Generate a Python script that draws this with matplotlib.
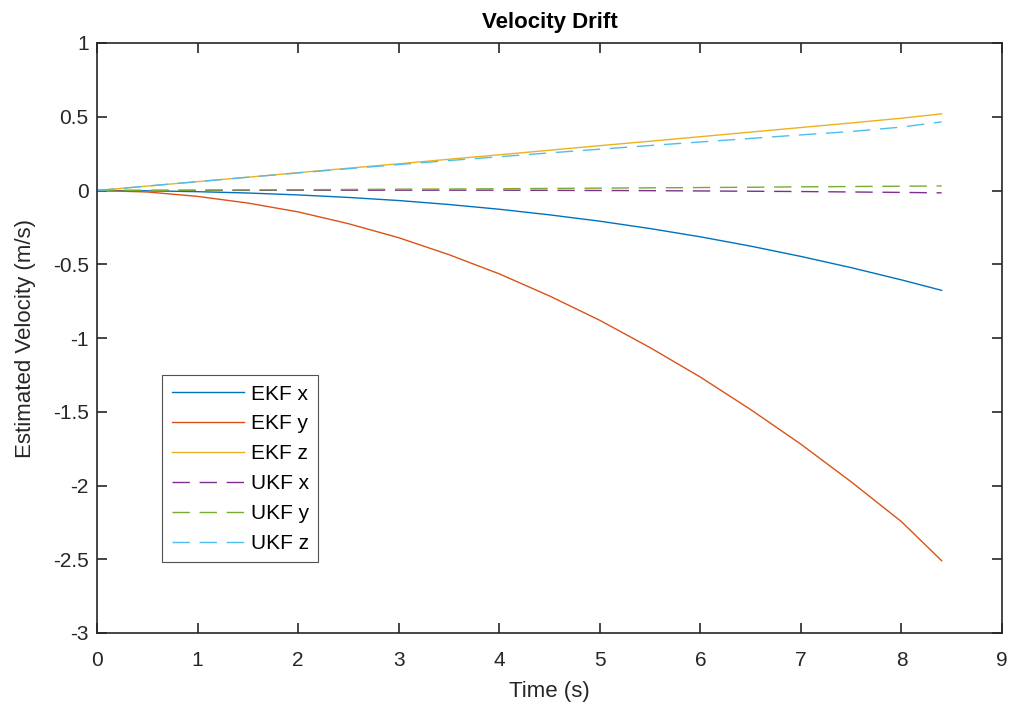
import matplotlib.pyplot as plt

plt.rcParams['font.family'] = ['Liberation Sans', 'DejaVu Sans']

# ====== data ======
t = [0, 0.5, 1, 1.5, 2, 2.5, 3, 3.5, 4, 4.5, 5, 5.5, 6, 6.5, 7, 7.5, 8, 8.4]
ekf_x = [0, -0.002, -0.008, -0.017, -0.03, -0.047, -0.068, -0.095, -0.127, -0.165,
         -0.208, -0.258, -0.314, -0.377, -0.447, -0.523, -0.606, -0.677]
ekf_y = [0, -0.01, -0.04, -0.085, -0.145, -0.225, -0.32, -0.435, -0.565, -0.715,
         -0.88, -1.065, -1.265, -1.485, -1.72, -1.975, -2.245, -2.51]
ekf_z = [0, 0.03, 0.06, 0.09, 0.121, 0.151, 0.181, 0.212, 0.242, 0.273,
         0.304, 0.334, 0.365, 0.396, 0.427, 0.458, 0.49, 0.52]
ukf_x = [0, 0.0, 0.001, 0.001, 0.002, 0.002, 0.002, 0.002, 0.002, 0.001,
         0.0, -0.001, -0.003, -0.005, -0.007, -0.01, -0.013, -0.016]
ukf_y = [0, 0.001, 0.002, 0.004, 0.005, 0.007, 0.009, 0.01, 0.012, 0.014,
         0.016, 0.018, 0.02, 0.022, 0.025, 0.027, 0.029, 0.031]
ukf_z = [0, 0.03, 0.06, 0.09, 0.119, 0.148, 0.176, 0.203, 0.229, 0.255,
         0.28, 0.305, 0.329, 0.353, 0.377, 0.4, 0.43, 0.465]

labels = ["EKF x", "EKF y", "EKF z", "UKF x", "UKF y", "UKF z"]
colors = ["#0072BD", "#D95319", "#EDB120", "#7E2F8E", "#77AC30", "#4DBEEE"]
ytick_labels = ["-3", "-2.5", "-2", "-1.5", "-1", "-0.5", "0", "0.5", "1"]

fig = plt.figure(figsize=(10.16, 7.13), dpi=100)
ax = fig.add_axes([97 / 1016, 80 / 713, 905 / 1016, 590 / 713])

series = [ekf_x, ekf_y, ekf_z, ukf_x, ukf_y, ukf_z]
for i, (vals, lab, col) in enumerate(zip(series, labels, colors)):
    ls = '-' if i < 3 else (0, (12.5, 7))
    ax.plot(t, vals, color=col, lw=1.0, linestyle=ls, label=lab)

ax.set_xlim(0, 9)
ax.set_ylim(-3, 1)
ax.set_xticks(range(0, 10))
ax.set_yticks([float(s) for s in ytick_labels])
ax.set_yticklabels(ytick_labels)
ax.tick_params(direction='in', top=True, right=True, length=7, width=1.2,
               labelsize=15, colors='#262626')
ax.tick_params(axis='x', pad=13)
ax.tick_params(axis='y', pad=6)
for sp in ax.spines.values():
    sp.set_linewidth(1.2)
    sp.set_color('#262626')

ax.set_xlabel("Time (s)", fontsize=16, color='#262626', labelpad=8)
ax.set_ylabel("Estimated Velocity (m/s)", fontsize=16, color='#262626', labelpad=12)
ax.set_title("Velocity Drift", fontsize=16, fontweight='bold', pad=11)

leg = ax.legend(loc='lower left', bbox_to_anchor=(0.072, 0.12), fontsize=15,
                frameon=True, fancybox=False, edgecolor='#262626',
                handlelength=3.5, handletextpad=0.3, labelspacing=0.52,
                borderpad=0.45, borderaxespad=0)
leg.get_frame().set_linewidth(0.8)

fig.savefig("out.png", dpi=100)
